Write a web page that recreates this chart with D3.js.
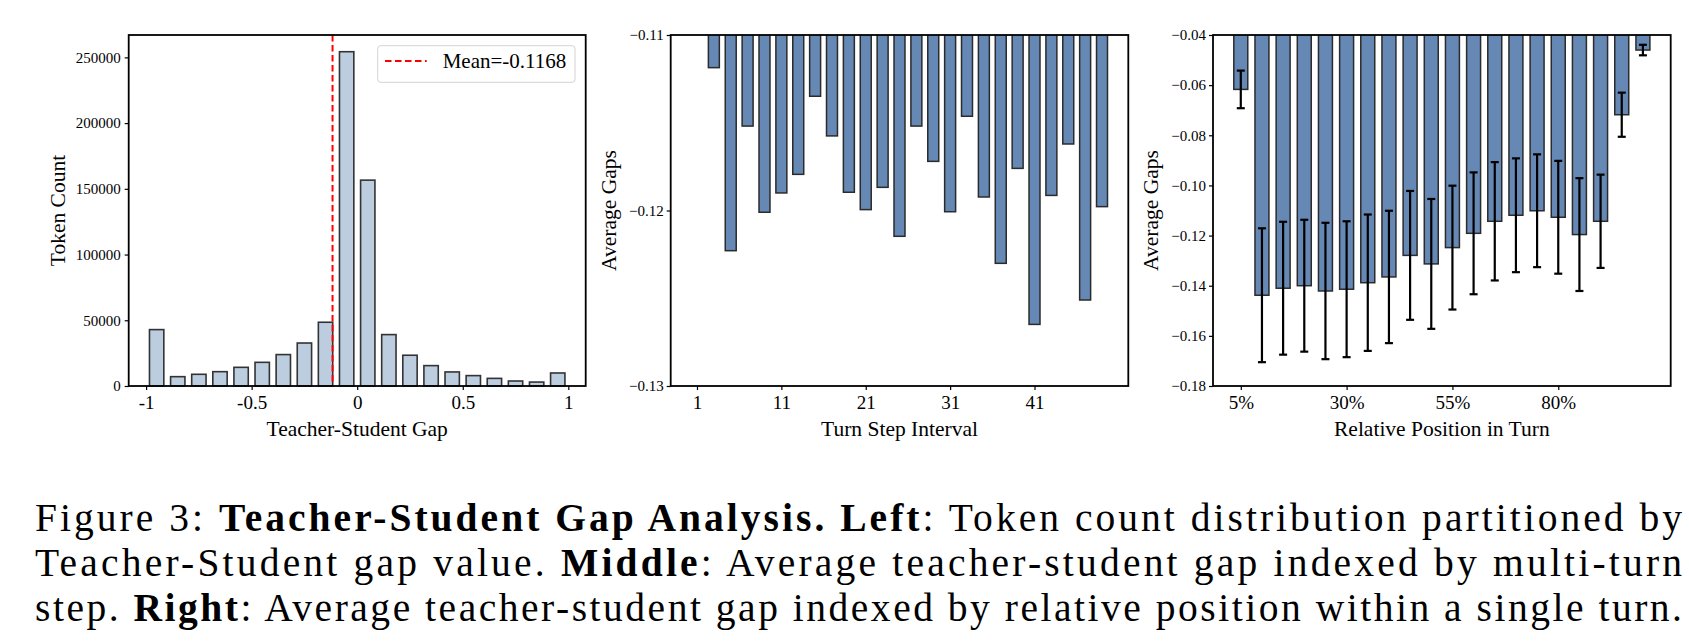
<!DOCTYPE html>
<html>
<head>
<meta charset="utf-8">
<script src="https://cdn.jsdelivr.net/npm/d3@7"></script>
<style>
    body { margin: 0; background: #fff; }
    text { font-family: "Liberation Serif", "Times New Roman", serif; fill: #000; }
</style>
</head>
<body>
<svg id="figure" width="1689" height="642"></svg>
<script>
//Left panel: histogram of teacher-student gap (bin starts, width 0.1)
const histBinStart = [-1.0, -0.9, -0.8, -0.7, -0.6, -0.5, -0.4, -0.3, -0.2, -0.1, 0.0, 0.1, 0.2, 0.3, 0.4, 0.5, 0.6, 0.7, 0.8, 0.9];
const tokenCounts = [42900, 7100, 8900, 10900, 14200, 18000, 23900, 32700, 48500, 254300, 156600, 39100, 23400, 15500, 10700, 7900, 5800, 3800, 3000, 9900];
const histBinWidth = 0.1;
const meanGap = -0.1168;
const histXTicks = [-1, -0.5, 0, 0.5, 1];
const histXTickLabels = ["-1", "-0.5", "0", "0.5", "1"];
const histYTicks = [0, 50000, 100000, 150000, 200000, 250000];

//Middle panel: average gap per turn step (step 1 sits above the visible range)
const turnSteps = [1, 3, 5, 7, 9, 11, 13, 15, 17, 19, 21, 23, 25, 27, 29, 31, 33, 35, 37, 39, 41, 43, 45, 47, 49];
const stepGaps = [null, -0.11186, -0.12229, -0.11519, -0.12010, -0.11900, -0.11794, -0.11349, -0.11575, -0.11896, -0.11995, -0.11868, -0.12147, -0.11519, -0.11720, -0.12007, -0.11463, -0.11923, -0.12301, -0.11760, -0.12649, -0.11914, -0.11621, -0.12510, -0.11978];
const stepXTicks = [1, 11, 21, 31, 41];
const stepYTicks = [-0.13, -0.12, -0.11];
const stepYTickLabels = ["\u22120.13", "\u22120.12", "\u22120.11"];

//Right panel: average gap by relative position, with error bars
const positions = ["5%", "10%", "15%", "20%", "25%", "30%", "35%", "40%", "45%", "50%", "55%", "60%", "65%", "70%", "75%", "80%", "85%", "90%", "95%", "100%"];
const positionGaps = [-0.0617, -0.1438, -0.1410, -0.1400, -0.1421, -0.1414, -0.1388, -0.1365, -0.1279, -0.1313, -0.1248, -0.1191, -0.1143, -0.1119, -0.1101, -0.1127, -0.1196, -0.1143, -0.0718, -0.0460];
const positionErrors = [0.0075, 0.0267, 0.0265, 0.0263, 0.0272, 0.0271, 0.0272, 0.0264, 0.0257, 0.0259, 0.0247, 0.0243, 0.0236, 0.0227, 0.0225, 0.0225, 0.0225, 0.0186, 0.0088, 0.0021];
const positionTickLabels = ["5%", "30%", "55%", "80%"];
const positionYTicks = [-0.18, -0.16, -0.14, -0.12, -0.10, -0.08, -0.06, -0.04];

//Caption lines, each a list of [text, bold?]
const captionLines = [
    [["Figure 3: ", false], ["Teacher-Student Gap Analysis.", true], [" ", false], ["Left", true], [": Token count distribution partitioned by", false]],
    [["Teacher-Student gap value. ", false], ["Middle", true], [": Average teacher-student gap indexed by multi-turn", false]],
    [["step. ", false], ["Right", true], [": Average teacher-student gap indexed by relative position within a single turn.", false]]
];

const svg = d3.select("#figure");
svg.append("rect").attr("width", 1689).attr("height", 642).attr("fill", "#fff");

//Axes boxes for the three panels
const boxLeft = {x0: 128.7, x1: 585.7, y0: 35, y1: 386};
const boxMid = {x0: 670.7, x1: 1128.3, y0: 35, y1: 386};
const boxRight = {x0: 1213, x1: 1670.7, y0: 35, y1: 386};

const defs = svg.append("defs");
function clipFor(id, box) {
    defs.append("clipPath").attr("id", id)
        .append("rect")
        .attr("x", box.x0).attr("y", box.y0)
        .attr("width", box.x1 - box.x0).attr("height", box.y1 - box.y0);
    return "url(#" + id + ")";
}

//Style an axis group the same way matplotlib does
function styleAxis(g, fontSize) {
    g.select(".domain").remove();
    g.selectAll(".tick line").attr("stroke", "#000").attr("stroke-width", 1.2);
    g.selectAll(".tick text").style("font-size", fontSize + "px").attr("fill", "#000");
}

function drawFrame(box) {
    svg.append("rect")
        .attr("x", box.x0).attr("y", box.y0)
        .attr("width", box.x1 - box.x0).attr("height", box.y1 - box.y0)
        .attr("fill", "none").attr("stroke", "#000").attr("stroke-width", 1.8);
}

function xLabel(box, label) {
    svg.append("text")
        .attr("x", (box.x0 + box.x1) / 2).attr("y", 435.5)
        .attr("text-anchor", "middle")
        .style("font-size", "21.5px")
        .text(label);
}

function yLabel(box, x, label) {
    svg.append("text")
        .attr("transform", "translate(" + x + "," + (box.y0 + box.y1) / 2 + ") rotate(-90)")
        .attr("text-anchor", "middle")
        .style("font-size", "21.5px")
        .text(label);
}

// ---------- Left panel ----------
const rwidth = 0.68;
const inset = (1 - rwidth) / 2 * histBinWidth;
const histLo = histBinStart[0] + inset;
const histHi = histBinStart[histBinStart.length - 1] + histBinWidth - inset;
const histPad = 0.05 * (histHi - histLo);

const hx = d3.scaleLinear().domain([histLo - histPad, histHi + histPad]).range([boxLeft.x0, boxLeft.x1]);
const hy = d3.scaleLinear().domain([0, d3.max(tokenCounts) * 1.05]).range([boxLeft.y1, boxLeft.y0]);

svg.append("g")
    .selectAll("rect")
    .data(histBinStart)
    .join("rect")
    .attr("x", d => hx(d + inset))
    .attr("width", d => hx(d + histBinWidth - inset) - hx(d + inset))
    .attr("y", (d, i) => hy(tokenCounts[i]))
    .attr("height", (d, i) => hy(0) - hy(tokenCounts[i]))
    .attr("fill", "#bdcde0")
    .attr("stroke", "#333")
    .attr("stroke-width", 1.6);

//Dashed line at the mean gap
svg.append("line")
    .attr("x1", hx(meanGap)).attr("x2", hx(meanGap))
    .attr("y1", boxLeft.y0).attr("y2", boxLeft.y1)
    .attr("stroke", "#ff0000").attr("stroke-width", 2)
    .attr("stroke-dasharray", "6.5,3.5");

svg.append("g")
    .attr("transform", "translate(0," + boxLeft.y1 + ")")
    .call(d3.axisBottom(hx).tickValues(histXTicks).tickFormat((d, i) => histXTickLabels[i]).tickSize(4).tickPadding(6))
    .call(g => styleAxis(g, 19));

svg.append("g")
    .attr("transform", "translate(" + boxLeft.x0 + ",0)")
    .call(d3.axisLeft(hy).tickValues(histYTicks).tickFormat(d3.format("d")).tickSize(4).tickPadding(4))
    .call(g => styleAxis(g, 15));

drawFrame(boxLeft);

//Legend
const legend = svg.append("g");
legend.append("rect")
    .attr("x", 377.7).attr("y", 45.7).attr("width", 197.3).attr("height", 36.6).attr("rx", 3)
    .attr("fill", "#fff").attr("fill-opacity", 0.8)
    .attr("stroke", "#d3d3d3").attr("stroke-width", 1);
legend.append("line")
    .attr("x1", 385).attr("x2", 426.7).attr("y1", 61).attr("y2", 61)
    .attr("stroke", "#ff0000").attr("stroke-width", 2).attr("stroke-dasharray", "6.5,3.5");
legend.append("text")
    .attr("x", 442.7).attr("y", 68.3)
    .style("font-size", "21px")
    .text("Mean=" + meanGap.toFixed(4));

xLabel(boxLeft, "Teacher-Student Gap");
yLabel(boxLeft, 65, "Token Count");

// ---------- Middle panel ----------
const stepBarWidth = 1.3;
const stepLo = d3.min(turnSteps) - stepBarWidth / 2;
const stepHi = d3.max(turnSteps) + stepBarWidth / 2;
const stepPad = 0.05 * (stepHi - stepLo);

const mx = d3.scaleLinear().domain([stepLo - stepPad, stepHi + stepPad]).range([boxMid.x0, boxMid.x1]);
const my = d3.scaleLinear().domain([-0.13, -0.11]).range([boxMid.y1, boxMid.y0]);

svg.append("g")
    .attr("clip-path", clipFor("clipMid", boxMid))
    .selectAll("rect")
    .data(turnSteps.map((s, i) => ({step: s, gap: stepGaps[i]})).filter(d => d.gap !== null))
    .join("rect")
    .attr("x", d => mx(d.step - stepBarWidth / 2))
    .attr("width", d => mx(d.step + stepBarWidth / 2) - mx(d.step - stepBarWidth / 2))
    .attr("y", my(0))
    .attr("height", d => my(d.gap) - my(0))
    .attr("fill", "#6688b5")
    .attr("stroke", "#2b2b2b")
    .attr("stroke-width", 1.5);

svg.append("g")
    .attr("transform", "translate(0," + boxMid.y1 + ")")
    .call(d3.axisBottom(mx).tickValues(stepXTicks).tickFormat(d3.format("d")).tickSize(4).tickPadding(6))
    .call(g => styleAxis(g, 19));

svg.append("g")
    .attr("transform", "translate(" + boxMid.x0 + ",0)")
    .call(d3.axisLeft(my).tickValues(stepYTicks).tickFormat((d, i) => stepYTickLabels[i]).tickSize(4).tickPadding(3))
    .call(g => styleAxis(g, 15));

drawFrame(boxMid);
xLabel(boxMid, "Turn Step Interval");
yLabel(boxMid, 615.5, "Average Gaps");

// ---------- Right panel ----------
const posBarWidth = 0.66;
const posLo = 0 - posBarWidth / 2;
const posHi = positions.length - 1 + posBarWidth / 2;
const posPad = 0.05 * (posHi - posLo);

const rx = d3.scaleLinear().domain([posLo - posPad, posHi + posPad]).range([boxRight.x0, boxRight.x1]);
const ry = d3.scaleLinear().domain([-0.18, -0.04]).range([boxRight.y1, boxRight.y0]);

svg.append("g")
    .attr("clip-path", clipFor("clipRight", boxRight))
    .selectAll("rect")
    .data(positionGaps)
    .join("rect")
    .attr("x", (d, i) => rx(i - posBarWidth / 2))
    .attr("width", (d, i) => rx(i + posBarWidth / 2) - rx(i - posBarWidth / 2))
    .attr("y", ry(0))
    .attr("height", d => ry(d) - ry(0))
    .attr("fill", "#6688b5")
    .attr("stroke", "#2b2b2b")
    .attr("stroke-width", 1.5);

//Error bars with caps
const errGroup = svg.append("g").attr("stroke", "#000").attr("stroke-width", 2.2);
positionGaps.forEach((v, i) => {
    const cx = rx(i);
    const top = ry(v + positionErrors[i]);
    const bottom = ry(v - positionErrors[i]);
    errGroup.append("line").attr("x1", cx).attr("x2", cx).attr("y1", top).attr("y2", bottom);
    errGroup.append("line").attr("x1", cx - 4).attr("x2", cx + 4).attr("y1", top).attr("y2", top);
    errGroup.append("line").attr("x1", cx - 4).attr("x2", cx + 4).attr("y1", bottom).attr("y2", bottom);
});

svg.append("g")
    .attr("transform", "translate(0," + boxRight.y1 + ")")
    .call(d3.axisBottom(rx)
        .tickValues(positionTickLabels.map(l => positions.indexOf(l)))
        .tickFormat(d => positions[d]).tickSize(4).tickPadding(6))
    .call(g => styleAxis(g, 19));

svg.append("g")
    .attr("transform", "translate(" + boxRight.x0 + ",0)")
    .call(d3.axisLeft(ry).tickValues(positionYTicks).tickFormat(d => d3.format(".2f")(d).replace("-", "\u2212")).tickSize(4).tickPadding(3))
    .call(g => styleAxis(g, 15));

drawFrame(boxRight);
xLabel(boxRight, "Relative Position in Turn");
yLabel(boxRight, 1157.5, "Average Gaps");

// ---------- Caption ----------
//Lines are justified to the same right edge, like the typeset figure caption
const captionBaselines = [531, 576, 620.7];
captionLines.forEach((parts, i) => {
    const t = svg.append("text")
        .attr("x", 35).attr("y", captionBaselines[i])
        .attr("textLength", 1647).attr("lengthAdjust", "spacing")
        .style("font-size", "39.5px");
    parts.forEach(p => {
        t.append("tspan").attr("font-weight", p[1] ? "bold" : "normal").text(p[0]);
    });
});
</script>
</body>
</html>
